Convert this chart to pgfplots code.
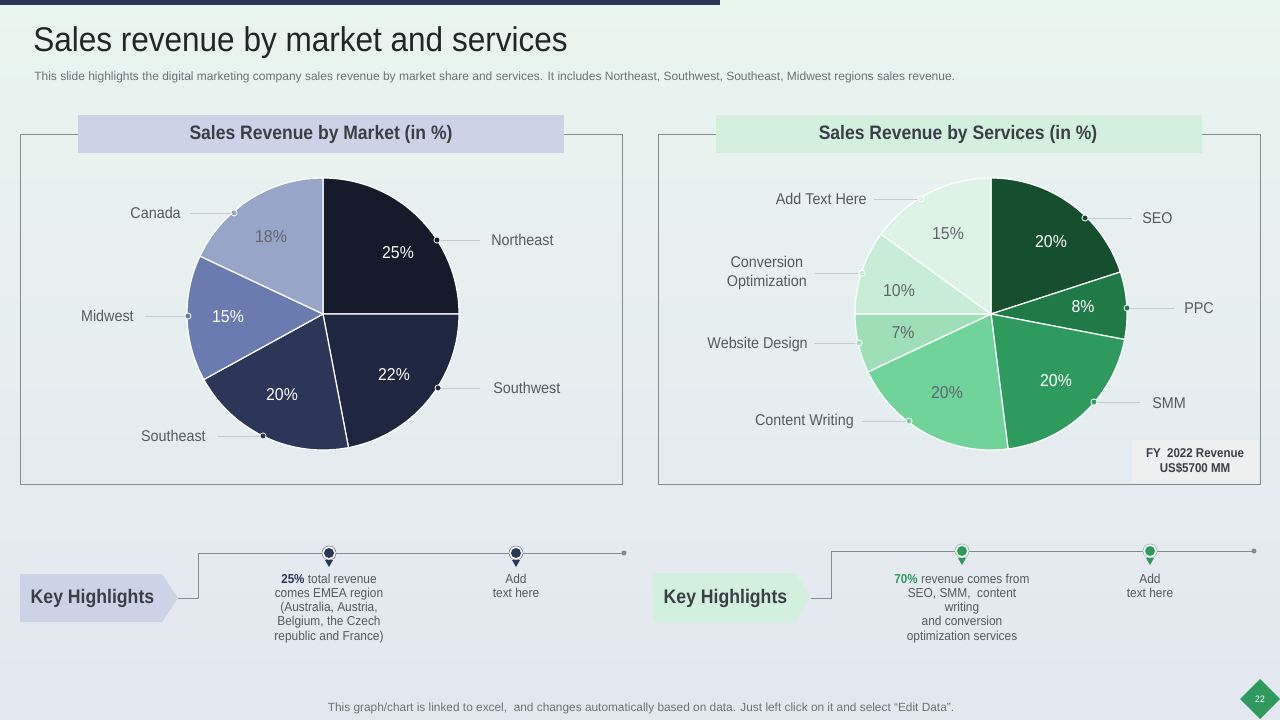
\documentclass[border=0pt]{standalone}
\usepackage{pgfplots}
\pgfplotsset{compat=1.18}
\usepackage{pgfplotstable}
\usepackage{fontspec}
\setmainfont{Liberation Sans}
\newfontfamily\cond[FakeStretch=0.92]{Liberation Sans}
\newfontfamily\condb[FakeStretch=0.9]{Liberation Sans Bold}

\definecolor{mk0}{HTML}{161B2C}
\definecolor{mk1}{HTML}{1F2740}
\definecolor{mk2}{HTML}{2B3658}
\definecolor{mk3}{HTML}{6A7BB0}
\definecolor{mk4}{HTML}{97A5C8}
\definecolor{sv0}{HTML}{154F2E}
\definecolor{sv1}{HTML}{1F7A45}
\definecolor{sv2}{HTML}{2E9A5E}
\definecolor{sv3}{HTML}{6FD39A}
\definecolor{sv4}{HTML}{9EDFB8}
\definecolor{sv5}{HTML}{C8EDD6}
\definecolor{sv6}{HTML}{DDF3E5}
\definecolor{navy}{HTML}{2B3658}
\definecolor{hdrblue}{HTML}{CDD3E6}
\definecolor{hdrgreen}{HTML}{D3F0DF}
\definecolor{frame}{HTML}{858C91}
\definecolor{leader}{HTML}{C5CACF}
\definecolor{txt}{HTML}{555A5E}
\definecolor{dark}{HTML}{3A3F46}
\definecolor{green}{HTML}{2E9A5E}
\definecolor{bgtop}{HTML}{E9F5EF}
\definecolor{bgbot}{HTML}{E3E7F0}
\definecolor{titlec}{HTML}{222628}
\definecolor{subc}{HTML}{6E7276}
\definecolor{fybox}{HTML}{EEF0F0}

\pgfplotstableread{
name pct
Northeast 25
Southwest 22
Southeast 20
Midwest 15
Canada 18
}\market
\pgfplotstableread{
name pct
SEO 20
PPC 8
SMM 20
Content 20
Website 7
Conversion 10
AddText 15
}\services

\newcommand\drawpie[3]{%
  \pgfmathsetmacro\cum{0}%
  \pgfplotsforeachungrouped \i in {0,...,#3}{%
    \pgfplotstablegetelem{\i}{pct}\of#1%
    \pgfmathsetmacro\pa{90-3.6*\cum}%
    \pgfmathsetmacro\cum{\cum+\pgfplotsretval}%
    \pgfmathsetmacro\pb{90-3.6*\cum}%
    \edef\tmp{\noexpand\addplot[fill=#2\i, draw=white, line width=0.9pt, domain=\pb:\pa, samples=60, variable=\noexpand\t] ({cos(\noexpand\t)},{sin(\noexpand\t)}) -- (axis cs:0,0) -- cycle;}%
    \tmp
  }%
}

\pgfplotsset{pieaxis/.style={anchor=center, x=102pt, y=102pt, xmin=-1.4, xmax=1.4, ymin=-1.1, ymax=1.1, hide axis, clip=false}}

\begin{document}
\begin{tikzpicture}[x=0.75pt,y=-0.75pt]
% background
\shade[top color=bgtop, bottom color=bgbot] (0,0) rectangle (1280,720);
\fill[navy] (0,0) rectangle (720,5);

% title
\node[anchor=base west, inner sep=0, font=\cond\fontsize{25.7}{30}\selectfont, text=titlec] at (33,52) {Sales revenue by market and services};
\node[anchor=base west, inner sep=0, font=\fontsize{9}{11}\selectfont, text=subc] at (34,81) {This slide highlights the digital marketing company sales revenue by market share and services. It includes Northeast, Southwest, Southeast, Midwest regions sales revenue.};

% frames
\draw[frame, line width=0.65pt] (20,134) rectangle (622,484);
\draw[frame, line width=0.65pt] (658,134) rectangle (1260,484);
\fill[hdrblue] (78,115) rectangle (564,153);
\fill[hdrgreen] (716,115) rectangle (1202,153);
\node[font=\condb\fontsize{14.6}{17}\selectfont, text=dark] at (321,134) {Sales Revenue by Market (in \%)};
\node[font=\condb\fontsize{14.6}{17}\selectfont, text=dark] at (958,134) {Sales Revenue by Services (in \%)};

% left pie
\begin{axis}[pieaxis, at={(242.25pt,-235.5pt)}]
\drawpie{\market}{mk}{4}
\addplot[leader, line width=0.6pt] coordinates {(-0.978,0.743) (-0.654,0.743)};
\addplot[leader, line width=0.6pt] coordinates {(0.838,0.544) (1.154,0.544)};
\addplot[leader, line width=0.6pt] coordinates {(-1.309,-0.015) (-0.993,-0.015)};
\addplot[leader, line width=0.6pt] coordinates {(0.846,-0.544) (1.154,-0.544)};
\addplot[leader, line width=0.6pt] coordinates {(-0.772,-0.897) (-0.441,-0.897)};
\addplot[only marks, mark=*, mark size=2.3pt, mark options={fill=mk4, draw=white, line width=0.6pt}] coordinates {(-0.654,0.743)};
\addplot[only marks, mark=*, mark size=2.3pt, mark options={fill=mk0, draw=white, line width=0.6pt}] coordinates {(0.838,0.544)};
\addplot[only marks, mark=*, mark size=2.3pt, mark options={fill=mk3, draw=white, line width=0.6pt}] coordinates {(-0.993,-0.015)};
\addplot[only marks, mark=*, mark size=2.3pt, mark options={fill=mk1, draw=white, line width=0.6pt}] coordinates {(0.846,-0.544)};
\addplot[only marks, mark=*, mark size=2.3pt, mark options={fill=mk2, draw=white, line width=0.6pt}] coordinates {(-0.441,-0.897)};
\end{axis}

% right pie
\begin{axis}[pieaxis, at={(743.25pt,-235.5pt)}]
\drawpie{\services}{sv}{6}
\addplot[leader, line width=0.6pt] coordinates {(-0.860,0.846) (-0.515,0.846)};
\addplot[leader, line width=0.6pt] coordinates {(0.691,0.706) (1.037,0.706)};
\addplot[leader, line width=0.6pt] coordinates {(-1.294,0.301) (-0.949,0.301)};
\addplot[leader, line width=0.6pt] coordinates {(1.0,0.044) (1.346,0.044)};
\addplot[leader, line width=0.6pt] coordinates {(-1.301,-0.213) (-0.971,-0.213)};
\addplot[leader, line width=0.6pt] coordinates {(0.757,-0.647) (1.096,-0.647)};
\addplot[leader, line width=0.6pt] coordinates {(-0.949,-0.787) (-0.603,-0.787)};
\addplot[only marks, mark=*, mark size=2.3pt, mark options={fill=sv6, draw=white, line width=0.6pt}] coordinates {(-0.515,0.846)};
\addplot[only marks, mark=*, mark size=2.3pt, mark options={fill=sv0, draw=white, line width=0.6pt}] coordinates {(0.691,0.706)};
\addplot[only marks, mark=*, mark size=2.3pt, mark options={fill=sv5, draw=white, line width=0.6pt}] coordinates {(-0.949,0.301)};
\addplot[only marks, mark=*, mark size=2.3pt, mark options={fill=sv1, draw=white, line width=0.6pt}] coordinates {(1.0,0.044)};
\addplot[only marks, mark=*, mark size=2.3pt, mark options={fill=sv4, draw=white, line width=0.6pt}] coordinates {(-0.971,-0.213)};
\addplot[only marks, mark=*, mark size=2.3pt, mark options={fill=sv2, draw=white, line width=0.6pt}] coordinates {(0.757,-0.647)};
\addplot[only marks, mark=*, mark size=2.3pt, mark options={fill=sv3, draw=white, line width=0.6pt}] coordinates {(-0.603,-0.787)};
\end{axis}

% pie labels
\begin{scope}[every node/.style={font=\cond\fontsize{11.7}{14}\selectfont, text=txt, inner sep=0}]
\node[anchor=east] at (181,213) {Canada};
\node[anchor=west] at (491,240) {Northeast};
\node[anchor=east] at (134,316) {Midwest};
\node[anchor=west] at (493,388) {Southwest};
\node[anchor=east] at (206,436) {Southeast};
\node[anchor=east] at (867,199) {Add Text Here};
\node[anchor=west] at (1142,218) {SEO};
\node[anchor=east, align=center] at (807,273) {Conversion\\Optimization};
\node[anchor=west] at (1184,308) {PPC};
\node[anchor=east] at (808,344) {Website Design};
\node[anchor=west] at (1152,403) {SMM};
\node[anchor=east] at (854,421) {Content Writing};
\end{scope}
\begin{scope}[every node/.style={font=\cond\fontsize{12.9}{15}\selectfont, inner sep=0}]
\node[text=white] at (398,253) {25\%};
\node[text=white] at (394,375) {22\%};
\node[text=white] at (282,395) {20\%};
\node[text=white] at (228,317) {15\%};
\node[text=dark!80] at (271,237) {18\%};
\node[text=white] at (1051,242) {20\%};
\node[text=white] at (1083,307) {8\%};
\node[text=white] at (1056,381) {20\%};
\node[text=dark!80] at (947,393) {20\%};
\node[text=dark!80] at (903,333) {7\%};
\node[text=dark!80] at (899,291) {10\%};
\node[text=dark!80] at (948,234) {15\%};
\end{scope}

% FY box
\fill[fybox] (1132,440) rectangle (1258,482);
\node[font=\condb\fontsize{9.6}{11.5}\selectfont, text=dark, align=center] at (1195,461) {FY\ \ 2022 Revenue\\US\$5700 MM};

% key highlights left
\fill[hdrblue] (20,574) -- (162,574) -- (178,598) -- (162,622) -- (20,622) -- cycle;
\node[anchor=west, font=\condb\fontsize{14.7}{18}\selectfont, text=dark] at (26,598) {Key Highlights};
\draw[frame, line width=0.7pt] (178,598) -- (198,598) -- (198,553) -- (624,553);
\fill[frame] (624,553) circle (2.5);
\foreach \xx in {329,516}{
  \fill[white] (\xx,553) circle (7);
  \draw[navy!70, line width=0.4pt] (\xx,553) circle (7);
  \fill[navy] (\xx,553) circle (5);
  \fill[navy] (\xx-4,560) -- (\xx+4,560) -- (\xx,567) -- cycle;
}
\node[font=\cond\fontsize{9.7}{10.7}\selectfont, text=txt, align=center, anchor=north] at (329,569) {\textcolor{navy}{\condb 25\%} total revenue\\comes EMEA region\\(Australia, Austria,\\Belgium, the Czech\\republic and France)};
\node[font=\cond\fontsize{9.7}{10.7}\selectfont, text=txt, align=center, anchor=north] at (516,569) {Add\\text here};

% key highlights right
\fill[hdrgreen] (653,573) -- (795,573) -- (811,598) -- (795,622) -- (653,622) -- cycle;
\node[anchor=west, font=\condb\fontsize{14.7}{18}\selectfont, text=dark] at (659,598) {Key Highlights};
\draw[frame, line width=0.7pt] (811,598) -- (831,598) -- (831,551) -- (1254,551);
\fill[frame] (1254,551) circle (2.5);
\foreach \xx in {962,1150}{
  \fill[white] (\xx,551) circle (7);
  \draw[green!70, line width=0.4pt] (\xx,551) circle (7);
  \fill[green] (\xx,551) circle (5);
  \fill[green] (\xx-4,558) -- (\xx+4,558) -- (\xx,565) -- cycle;
}
\node[font=\cond\fontsize{9.7}{10.7}\selectfont, text=txt, align=center, anchor=north] at (962,569) {\textcolor{green}{\condb 70\%} revenue comes from\\SEO, SMM,\ \ content\\writing\\and conversion\\optimization services};
\node[font=\cond\fontsize{9.7}{10.7}\selectfont, text=txt, align=center, anchor=north] at (1150,569) {Add\\text here};

% footer
\node[font=\fontsize{8.9}{10}\selectfont, text=subc] at (641,708) {This graph/chart is linked to excel,\ \ and changes automatically based on data. Just left click on it and select “Edit Data”.};
\fill[green] (1260,679) -- (1280,699) -- (1260,719) -- (1240,699) -- cycle;
\node[font=\cond\fontsize{7}{8}\selectfont, text=white] at (1260,699) {22};
\end{tikzpicture}
\end{document}
